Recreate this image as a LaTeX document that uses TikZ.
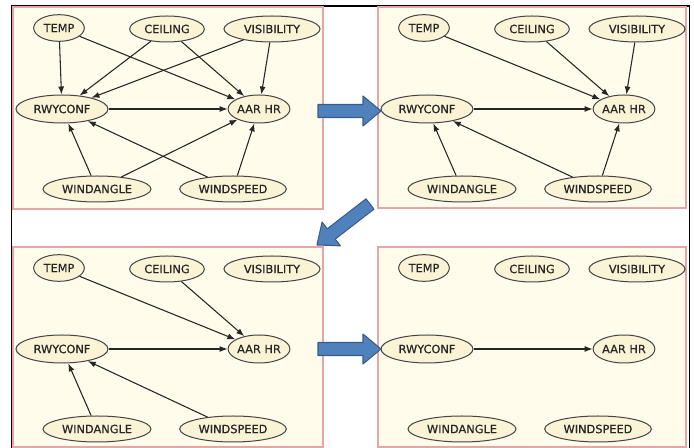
\documentclass[tikz,border=0pt]{standalone}
\usepackage{fontspec}
\setmainfont{DejaVu Sans}
\usetikzlibrary{shapes.geometric,arrows.meta}

\definecolor{panelbg}{HTML}{FFFCEB}
\definecolor{panelrim}{HTML}{E4A6A6}
\definecolor{varbg}{HTML}{FBF3D6}
\definecolor{varrim}{HTML}{444444}
\definecolor{flowblue}{HTML}{4F81BD}
\definecolor{flowrim}{HTML}{385D8A}

% the seven variables of the net, same place in every panel
\newcommand\netvars{%
  \node[var,minimum width=38pt,minimum height=20pt] (temp) at (46,21) {TEMP};
  \node[var,minimum width=56pt] (ceil) at (154,22) {CEILING};
  \node[var,minimum width=72pt] (vis) at (259,22) {VISIBILITY};
  \node[var,minimum width=69pt,minimum height=21pt] (rwy) at (49,102) {RWYCONF};
  \node[var,minimum width=43pt,minimum height=21pt] (aar) at (246,102) {AAR HR};
  \node[var,minimum width=81pt] (wangle) at (84,182) {WINDANGLE};
  \node[var,minimum width=80pt] (wspeed) at (220,182) {WINDSPEED};
}

% block arrow: x, y of tail, angle, length
\newcommand\flowarrow[4]{%
  \draw[flow,shift={(#1,#2)},rotate=#3] (0,-6.5) -- (#4-18,-6.5) -- (#4-18,-15)
    -- (#4,0) -- (#4-18,15) -- (#4-18,6.5) -- (0,6.5) -- cycle;
}

\begin{document}
\begin{tikzpicture}
[x=0.75pt,y=-0.75pt,
 var/.style={draw=varrim,line width=0.75pt,fill=varbg,ellipse,inner sep=0pt,
   minimum height=19.5pt,text=black!85,
   font=\fontsize{8.5pt}{9pt}\selectfont\addfontfeature{FakeBold=0.6}},
 dep/.style={draw=black!85,line width=0.8pt,-{Latex[length=6pt,width=4.5pt]}},
 panel/.style={draw=panelrim,line width=1.1pt,fill=panelbg},
 flow/.style={fill=flowblue,draw=flowrim,line width=0.8pt,line join=round}]
\useasboundingbox (0,0) rectangle (694,448);
\fill[white] (0,0) rectangle (694,448);
\draw[black,line width=0.9pt] (11.5,6) rectangle (689.5,451);

% full net
\begin{scope}[shift={(13,7)},name prefix=a-]
\draw[panel] (0,0) rectangle (310,202);
\netvars
\foreach \from/\to in {temp/rwy,temp/aar,ceil/rwy,ceil/aar,vis/rwy,vis/aar,
  rwy/aar,wangle/rwy,wangle/aar,wspeed/rwy,wspeed/aar}
  \draw[dep] (\from) -- (\to);
\end{scope}

% step 1
\begin{scope}[shift={(378,7)},name prefix=b-]
\draw[panel] (0,0) rectangle (308,201);
\netvars
\foreach \from/\to in {temp/aar,ceil/aar,vis/aar,rwy/aar,
  wangle/rwy,wspeed/rwy,wspeed/aar}
  \draw[dep] (\from) -- (\to);
\end{scope}

% step 2
\begin{scope}[shift={(13,247)},name prefix=c-]
\draw[panel] (0,0) rectangle (310,200);
\netvars
\foreach \from/\to in {temp/aar,ceil/aar,rwy/aar,wangle/rwy,wspeed/rwy}
  \draw[dep] (\from) -- (\to);
\end{scope}

% step 3
\begin{scope}[shift={(378,247)},name prefix=d-]
\draw[panel] (0,0) rectangle (308,200);
\netvars
\draw[dep] (rwy) -- (aar);
\end{scope}

% arrows between the panels
\flowarrow{318}{111}{0}{63}
\flowarrow{370}{204}{217.7}{67}
\flowarrow{318}{349}{0}{63}
\end{tikzpicture}
\end{document}
